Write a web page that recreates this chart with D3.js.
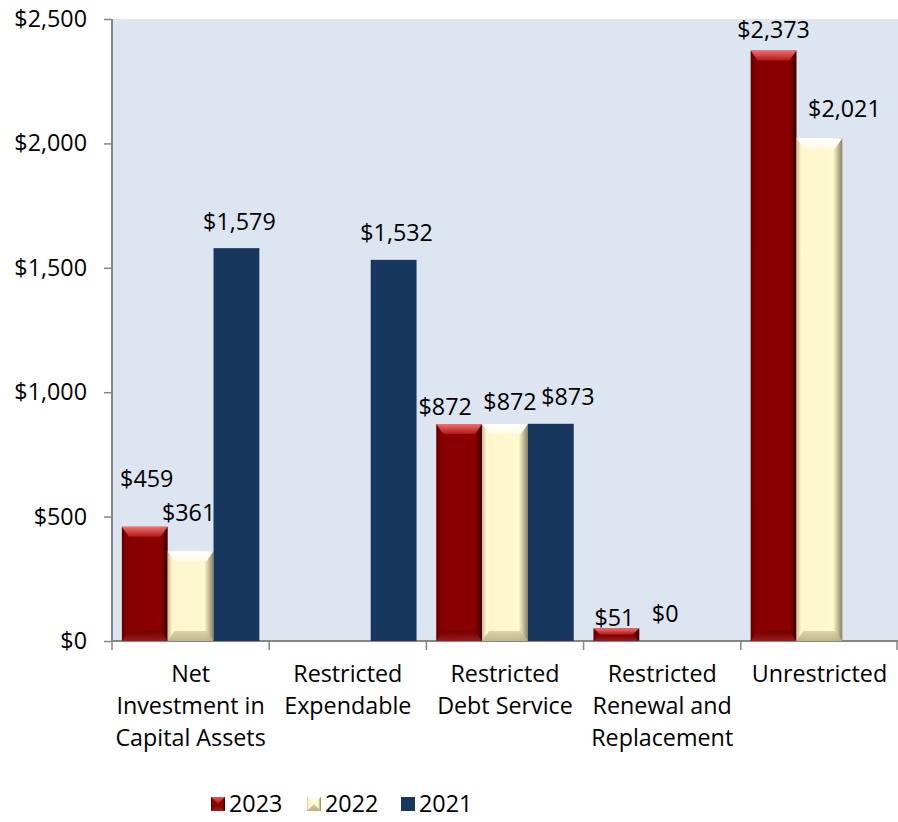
<!DOCTYPE html>
<html>
<head>
<meta charset="utf-8">
<script src="https://cdn.jsdelivr.net/npm/d3@7"></script>
<style>
  html, body { margin: 0; padding: 0; background: #fff; }
  svg { display: block; font-family: "Open Sans", Lato, sans-serif; }
</style>
</head>
<body>
<div id="container"></div>
<script>
// Data
const categories = [
  ["Net", "Investment in", "Capital Assets"],
  ["Restricted", "Expendable"],
  ["Restricted", "Debt Service"],
  ["Restricted", "Renewal and", "Replacement"],
  ["Unrestricted"]
];
const years = ["2023", "2022", "2021"];
const values2023 = [459, null, 872, 51, 2373];
const values2022 = [361, null, 872, 0, 2021];
const values2021 = [1579, 1532, 873, null, null];
const yTicks = [0, 500, 1000, 1500, 2000, 2500];

// label nudges (Excel moved some labels around), keyed "series-category"
const labelNudge = {
  "0-0": [2, -31], "1-0": [-2, -21], "2-0": [3, -9],
  "2-1": [3, -10],
  "0-2": [-14, 0], "1-2": [5, -5], "2-2": [17, -10],
  "0-3": [-2, 7], "1-3": [3, -10],
  "0-4": [0, -4], "1-4": [25, -12]
};

const FONT = 23.3;
const W = 898, H = 822;
const plot = { left: 112, top: 19, right: 898, bottom: 641 };

const svg = d3.select("#container").append("svg")
  .attr("width", W).attr("height", H);

const defs = svg.append("defs");

// gradients for the bevelled bars
function hGrad(id, stops) {
  const g = defs.append("linearGradient").attr("id", id)
    .attr("x1", 0).attr("x2", 1).attr("y1", 0).attr("y2", 0);
  stops.forEach(s => g.append("stop").attr("offset", s[0]).attr("stop-color", s[1]));
}
function vGrad(id, stops) {
  const g = defs.append("linearGradient").attr("id", id)
    .attr("x1", 0).attr("x2", 0).attr("y1", 0).attr("y2", 1);
  stops.forEach(s => g.append("stop").attr("offset", s[0]).attr("stop-color", s[1]));
}
hGrad("redFace", [[0, "#5c0000"], [0.1, "#870000"], [0.85, "#8b0000"], [1, "#3a0000"]]);
vGrad("redTop", [[0, "#f07070"], [1, "#b01818"]]);
vGrad("redBot", [[0, "#700000"], [1, "#a02020"]]);
hGrad("creamFace", [[0, "#c8c098"], [0.1, "#fff6cc"], [0.8, "#fff9cf"], [1, "#8a8260"]]);
vGrad("creamTop", [[0, "#ffffff"], [1, "#fffbe4"]]);
vGrad("creamBot", [[0, "#d8d0a0"], [1, "#b8b088"]]);

const styles = [
  { face: "url(#redFace)", top: "url(#redTop)", bot: "url(#redBot)", bevel: true },
  { face: "url(#creamFace)", top: "url(#creamTop)", bot: "url(#creamBot)", bevel: true },
  { face: "#17375e", bevel: false }
];

// Scales
const x0 = d3.scaleBand()
  .domain(d3.range(categories.length))
  .range([plot.left, plot.right])
  .paddingInner(0).paddingOuter(0);

const x1 = d3.scaleBand()
  .domain(d3.range(years.length))
  .range([0, x0.bandwidth()])
  .paddingOuter(0.215).paddingInner(0);

const y = d3.scaleLinear()
  .domain([0, 2500])
  .range([plot.bottom, plot.top]);

// Plot background
svg.append("rect")
  .attr("x", plot.left).attr("y", plot.top)
  .attr("width", plot.right - plot.left)
  .attr("height", plot.bottom - plot.top)
  .attr("fill", "#dde5f0");

// Y axis
const yAxis = svg.append("g")
  .attr("transform", `translate(${plot.left},0)`)
  .call(d3.axisLeft(y).tickValues(yTicks).tickSize(8).tickPadding(17)
    .tickFormat(d => "$" + d3.format(",")(d)));
yAxis.select(".domain").attr("stroke", "#868686").attr("stroke-width", 2)
  .attr("d", `M0,${plot.top}V${plot.bottom}`);
yAxis.selectAll(".tick line").attr("stroke", "#868686").attr("stroke-width", 1.5);
yAxis.selectAll(".tick text")
  .attr("font-size", FONT).attr("font-family", "'Open Sans', sans-serif").attr("fill", "#000");

// X axis line and ticks at category boundaries
const xAxis = svg.append("g");
xAxis.append("line")
  .attr("x1", plot.left).attr("x2", plot.right)
  .attr("y1", plot.bottom).attr("y2", plot.bottom)
  .attr("stroke", "#868686").attr("stroke-width", 2);
xAxis.selectAll("line.tk")
  .data(d3.range(categories.length + 1))
  .enter().append("line")
  .attr("class", "tk")
  .attr("x1", i => i < categories.length ? x0(i) : plot.right - 1)
  .attr("x2", i => i < categories.length ? x0(i) : plot.right - 1)
  .attr("y1", plot.bottom).attr("y2", plot.bottom + 9)
  .attr("stroke", "#868686").attr("stroke-width", 1.5);

// Category labels
const catLabels = xAxis.selectAll("text.cat")
  .data(categories)
  .enter().append("text")
  .attr("class", "cat")
  .attr("text-anchor", "middle")
  .attr("font-size", FONT)
  .attr("fill", "#000");
catLabels.each(function(lines, i) {
  const t = d3.select(this);
  lines.forEach((ln, j) => {
    t.append("tspan")
      .attr("x", x0(i) + x0.bandwidth() / 2)
      .attr("y", 682 + j * 32)
      .text(ln);
  });
});

// Bars
const series = [values2023, values2022, values2021];
const barLayer = svg.append("g");

series.forEach((vals, s) => {
  const st = styles[s];
  vals.forEach((v, c) => {
    if (v === null || v === 0) return;
    const bx = x0(c) + x1(s);
    const bw = x1.bandwidth();
    const by = y(v);
    const bh = plot.bottom - by;
    const g = barLayer.append("g");
    g.append("rect")
      .attr("x", bx).attr("y", by).attr("width", bw).attr("height", bh)
      .attr("fill", st.face);
    if (st.bevel) {
      const b = Math.min(10, bh / 2);
      const side = Math.min(7, bw / 4);
      // top bevel
      g.append("path")
        .attr("d", `M${bx},${by}L${bx + bw},${by}L${bx + bw - side},${by + b}L${bx + side},${by + b}Z`)
        .attr("fill", st.top);
      // bottom bevel
      g.append("path")
        .attr("d", `M${bx},${by + bh}L${bx + bw},${by + bh}L${bx + bw - side},${by + bh - b}L${bx + side},${by + bh - b}Z`)
        .attr("fill", st.bot).attr("opacity", 0.9);
    }
  });
});

// Data labels
const labelLayer = svg.append("g");
series.forEach((vals, s) => {
  vals.forEach((v, c) => {
    if (v === null) return;
    const nd = labelNudge[s + "-" + c] || [0, 0];
    labelLayer.append("text")
      .attr("x", x0(c) + x1(s) + x1.bandwidth() / 2 + nd[0])
      .attr("y", y(v) - 9 + nd[1])
      .attr("text-anchor", "middle")
      .attr("font-size", FONT)
      .attr("fill", "#000")
      .text("$" + d3.format(",")(v));
  });
});

// Legend
const legend = svg.append("g").attr("transform", "translate(211,797)");
const legendX = [0, 96, 190];
years.forEach((yr, i) => {
  const g = legend.append("g").attr("transform", `translate(${legendX[i]},0)`);
  const st = styles[i];
  g.append("rect").attr("x", 0).attr("y", 0).attr("width", 14).attr("height", 14)
    .attr("fill", st.face);
  if (st.bevel) {
    g.append("path").attr("d", "M0,0L14,0L7,7Z").attr("fill", st.top).attr("opacity", 0.8);
    g.append("path").attr("d", "M0,14L14,14L7,7Z").attr("fill", st.bot);
  }
  g.append("text").attr("x", 18).attr("y", 15)
    .attr("font-size", FONT).attr("fill", "#000").text(yr);
});
</script>
</body>
</html>
